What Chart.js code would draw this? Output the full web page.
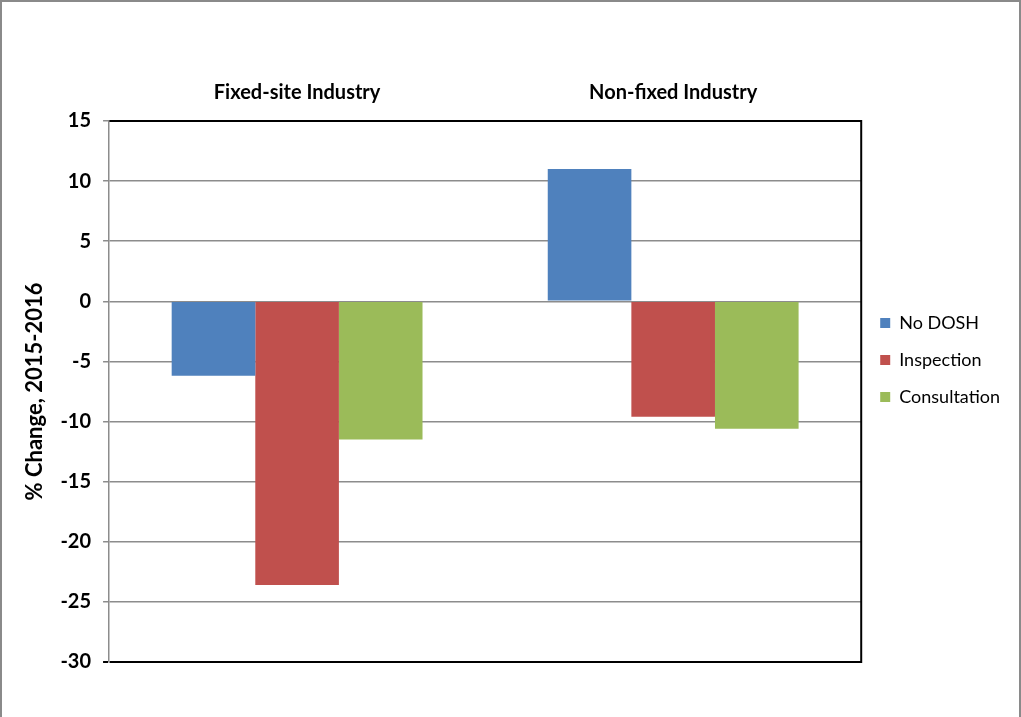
<!DOCTYPE html>
<html>
<head>
<meta charset="utf-8">
<script src="https://cdn.jsdelivr.net/npm/chart.js@4"></script>
<style>
  body { margin: 0; background: #fff; }
  #wrap { position: relative; width: 1021px; height: 717px; }
  #frame { position: absolute; left: 0; top: 0; width: 1021px; height: 730px; box-sizing: border-box;
           border: 2px solid #8a8a8a; pointer-events: none; }
</style>
</head>
<body>
<div id="wrap">
  <canvas id="changeChart" width="1021" height="717"></canvas>
  <div id="frame"></div>
</div>
<script>
// data
const industries = ['Fixed-site Industry', 'Non-fixed Industry'];
const noDosh = [-6.2, 11.0];
const inspection = [-23.6, -9.6];
const consultation = [-11.5, -10.6];
const yTicks = [15, 10, 5, 0, -5, -10, -15, -20, -25, -30];

const font = 'Lato, "Open Sans", "Liberation Sans", sans-serif';

// black border on the right side of the plot area
const rightBorder = {
  id: 'rightBorder',
  afterDraw(chart) {
    const { ctx, chartArea } = chart;
    ctx.save();
    ctx.strokeStyle = '#000';
    ctx.lineWidth = 2;
    ctx.beginPath();
    ctx.moveTo(chartArea.right, chartArea.top - 1);
    ctx.lineTo(chartArea.right, chartArea.bottom + 1);
    ctx.stroke();
    ctx.restore();
  }
};

const ctx = document.getElementById('changeChart').getContext('2d');
new Chart(ctx, {
  type: 'bar',
  data: {
    labels: industries,
    datasets: [
      { label: 'No DOSH', data: noDosh, backgroundColor: '#4f81bd' },
      { label: 'Inspection', data: inspection, backgroundColor: '#c0504d' },
      { label: 'Consultation', data: consultation, backgroundColor: '#9bbb59' }
    ]
  },
  options: {
    responsive: false,
    animation: false,
    layout: { padding: { top: 73, left: 22, right: 11, bottom: 55 } },
    datasets: { bar: { categoryPercentage: 0.667, barPercentage: 1.0 } },
    plugins: {
      tooltip: { enabled: false },
      legend: {
        position: 'right',
        align: 'start',
        // empty title only used as a spacer to push the items down
        title: { display: true, text: '', font: { size: 10 }, padding: { top: 210, bottom: 0 } },
        labels: {
          boxWidth: 10, boxHeight: 10, padding: 19,
          color: '#000',
          font: { family: font, size: 18 }
        }
      }
    },
    scales: {
      x: {
        position: 'top',
        grid: { display: false },
        border: { color: '#000', width: 2 },
        ticks: { color: '#000', padding: 8, font: { family: font, size: 20, weight: 'bold' } }
      },
      y: {
        min: -30, max: 15,
        afterBuildTicks(axis) { axis.ticks = yTicks.map(v => ({ value: v })); },
        grid: {
          color: c => (c.tick && c.tick.value === -30) ? '#000' : '#8c8c8c',
          lineWidth: c => (c.tick && c.tick.value === -30) ? 2 : 1.5,
          tickLength: 6
        },
        border: { color: '#8c8c8c', width: 1.5 },
        ticks: { color: '#000', padding: 12, font: { family: font, size: 20, weight: 'bold' } },
        title: {
          display: true, text: '% Change, 2015-2016', color: '#000',
          padding: { top: 0, bottom: 0 },
          font: { family: font, size: 22, weight: 'bold' }
        }
      }
    }
  },
  plugins: [rightBorder]
});
</script>
</body>
</html>
